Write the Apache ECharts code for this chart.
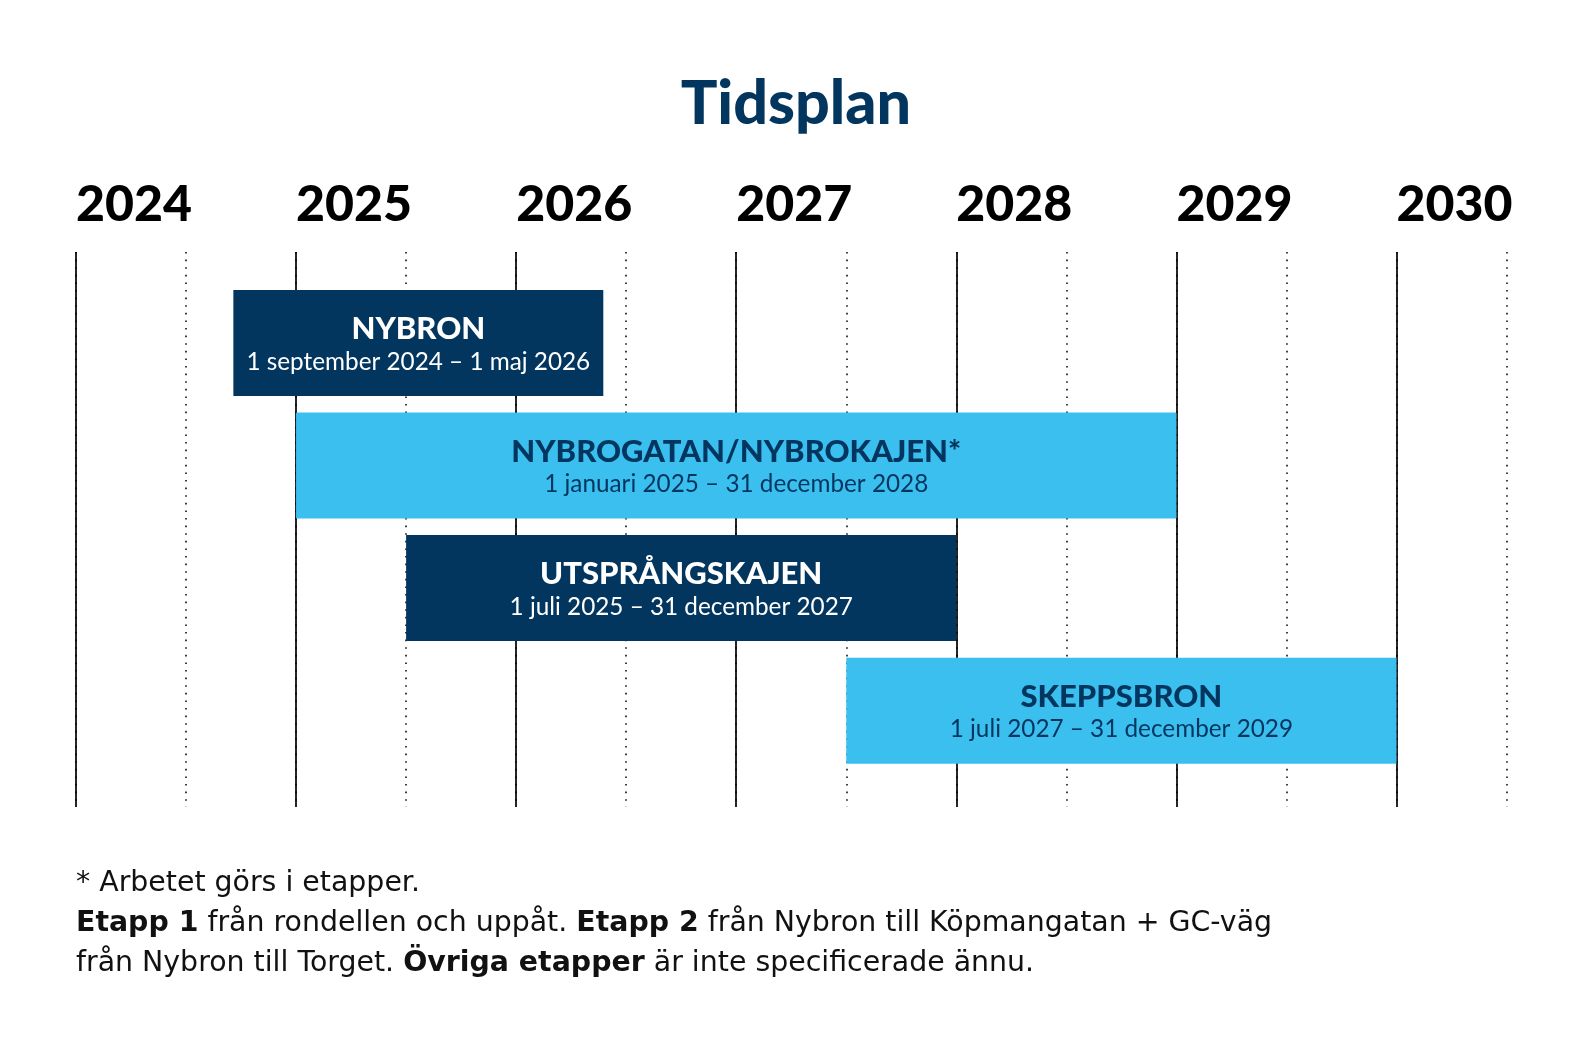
<!DOCTYPE html>
<html>
<head>
<meta charset="utf-8">
<script src="https://cdn.jsdelivr.net/npm/echarts@6/dist/echarts.min.js"></script>
<style>
  html, body { margin: 0; background: #fff; }
  #chart { width: 1583px; height: 1042px; }
</style>
</head>
<body>
<div id="chart"></div>
<script>
// year ticks along the top
const years = [2024, 2025, 2026, 2027, 2028, 2029, 2030];

// project phases
const tasks = ['NYBRON', 'NYBROGATAN/NYBROKAJEN*', 'UTSPRÅNGSKAJEN', 'SKEPPSBRON'];
const periods = [
  '1 september 2024 – 1 maj 2026',
  '1 januari 2025 – 31 december 2028',
  '1 juli 2025 – 31 december 2027',
  '1 juli 2027 – 31 december 2029'
];
// start / end as decimal years (as drawn)
const starts = [2024.715, 2025, 2025.5, 2027.5];
const ends = [2026.396, 2029, 2028, 2030];

const NAVY = '#02365f';
const SKY = '#3bbfef';
const FONT = 'Lato, "Open Sans", sans-serif';
const NOTE_FONT = '"DejaVu Sans", "Open Sans", sans-serif';

const chart = echarts.init(document.getElementById('chart'));

const barData = tasks.map((t, i) => [i, starts[i], ends[i]]);

const option = {
  backgroundColor: '#fff',
  animation: false,
  title: {
    text: 'Tidsplan',
    left: 796,
    textAlign: 'center',
    top: 74,
    padding: 0,
    textStyle: { color: NAVY, fontFamily: FONT, fontWeight: 900, fontSize: 61 }
  },
  grid: { left: 76, right: 76.5, top: 252, bottom: 235, containLabel: false, outerBoundsMode: 'none' },
  xAxis: [
    {
      type: 'value',
      position: 'top',
      min: 2024,
      max: 2030.5,
      interval: 1,
      axisLine: { show: false },
      axisTick: { show: false },
      axisLabel: {
        align: 'left',
        margin: 22,
        color: '#000',
        fontFamily: FONT,
        fontWeight: 900,
        fontSize: 50,
        formatter: v => (years.includes(v) ? String(v) : '')
      },
      splitLine: { show: true, showMaxLine: false, lineStyle: { color: '#000', width: 1.7, type: 'solid' } }
    },
    {
      type: 'value',
      position: 'top',
      min: 2024,
      max: 2030.5,
      interval: 0.5,
      axisLine: { show: false },
      axisTick: { show: false },
      axisLabel: { show: false },
      splitLine: { show: true, lineStyle: { color: '#000', width: 1.5, type: [1.6, 6] } }
    }
  ],
  yAxis: {
    type: 'value',
    inverse: true,
    min: -0.742,
    max: 3.786,
    show: false,
    splitLine: { show: false }
  },
  series: [
    {
      type: 'custom',
      xAxisIndex: 0,
      yAxisIndex: 0,
      encode: { x: [1, 2], y: 0 },
      data: barData,
      renderItem: function (params, api) {
        const i = api.value(0);
        const a = api.coord([api.value(1), i]);
        const b = api.coord([api.value(2), i]);
        const h = api.size([0, 1])[1] * 0.865;
        const dark = i % 2 === 0;
        const cx = (a[0] + b[0]) / 2;
        const txt = dark ? '#fff' : NAVY;
        return {
          type: 'group',
          children: [
            {
              type: 'rect',
              shape: { x: a[0], y: a[1] - h / 2, width: b[0] - a[0], height: h },
              style: { fill: dark ? NAVY : SKY }
            },
            {
              type: 'text',
              style: {
                text: tasks[i], x: cx, y: a[1] - 14, align: 'center', verticalAlign: 'middle',
                fill: txt, fontFamily: FONT, fontWeight: 900, fontSize: 31
              }
            },
            {
              type: 'text',
              style: {
                text: periods[i], x: cx, y: a[1] + 19, align: 'center', verticalAlign: 'middle',
                fill: txt, fontFamily: FONT, fontWeight: 400, fontSize: 24.3
              }
            }
          ]
        };
      }
    }
  ],
  graphic: [
    {
      type: 'text',
      left: 76,
      top: 864,
      style: {
        text: '* Arbetet görs i etapper.\n' +
          '{b|Etapp 1} från rondellen och uppåt. {b|Etapp 2} från Nybron till Köpmangatan + GC-väg\n' +
          'från Nybron till Torget. {b|Övriga etapper} är inte specificerade ännu.',
        fill: '#111',
        fontFamily: NOTE_FONT,
        fontWeight: 400,
        fontSize: 28.4,
        lineHeight: 40,
        rich: {
          b: { fill: '#111', fontFamily: NOTE_FONT, fontWeight: 'bold', fontSize: 28.4, lineHeight: 40 }
        }
      }
    }
  ]
};

option && chart.setOption(option);
</script>
</body>
</html>
